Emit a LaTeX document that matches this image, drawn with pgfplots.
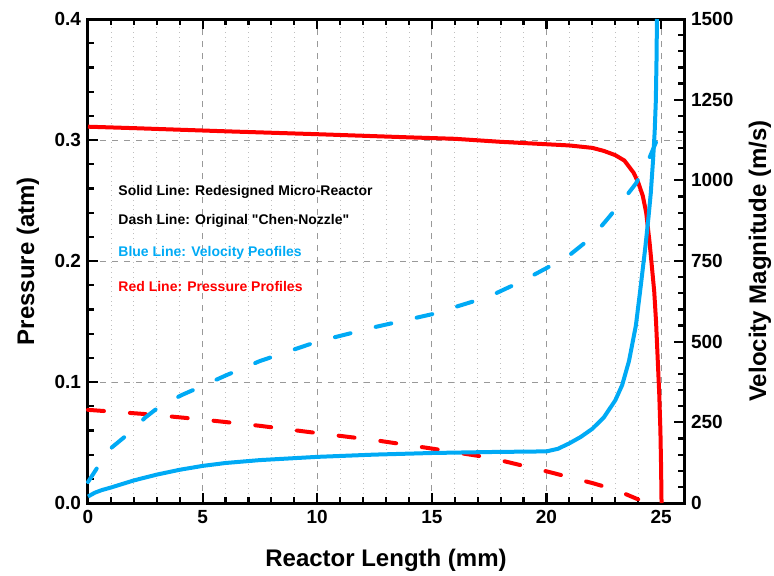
\documentclass[border=0pt]{standalone}
\usepackage{fontspec}
\setmainfont{Liberation Sans}
\newfontfamily\plainfont{Liberation Sans}
\usepackage{pgfplots}
\pgfplotsset{compat=1.18}
\definecolor{myblue}{RGB}{0,170,245}
\definecolor{myred}{RGB}{255,0,0}
\tikzset{tk/.style={black, line width=1.1pt}}
\begin{document}
\begin{tikzpicture}
\pgfplotsset{
  common/.style={
    scale only axis, width=298pt, height=242pt,
    at={(0,0)}, anchor=south west,
    xmin=0, xmax=26,
    clip=false,
    axis line style={line width=1.5pt, black},
    ticklabel style={font=\fontsize{9.5}{11}\selectfont\bfseries},
    /pgf/number format/assume math mode=true,
    /pgf/number format/1000 sep={},
    label style={font=\fontsize{12}{14}\selectfont\bfseries},
    tick align=inside,
    major tick length=5pt, minor tick length=3pt,
    every tick/.style={draw=black, line width=1.1pt},
  },
}
\begin{axis}[common,
  ymin=0, ymax=0.4,
  xtick={0,5,10,15,20,25}, minor x tick num=4,
  ytick={0,0.1,0.2,0.3,0.4}, minor y tick num=4,
  xtick pos=both, ytick pos=left,
  yticklabel style={/pgf/number format/fixed, /pgf/number format/fixed zerofill, /pgf/number format/precision=1},
  xmajorgrids=true, xminorgrids=true, ymajorgrids=true,
  major grid style={dashed, gray!80, line width=0.4pt},
  minor grid style={dotted, gray!50, line width=0.4pt},
  xlabel={Reactor Length (mm)},
  ylabel={Pressure (atm)},
  x label style={at={(axis description cs:0.5,-0.1178)}, anchor=center},
  y label style={at={(axis description cs:-0.1007,0.5)}, anchor=center},
]
% tick marks (inside)
\pgfplotsinvokeforeach{5,10,15,20,25}{
  \draw[tk] (axis cs:#1,0) -- ++(0,5pt);
  \draw[tk] (axis cs:#1,0.4) -- ++(0,-5pt);
}
\pgfplotsinvokeforeach{1,2,3,4,6,7,8,9,11,12,13,14,16,17,18,19,21,22,23,24}{
  \draw[tk] (axis cs:#1,0) -- ++(0,3pt);
  \draw[tk] (axis cs:#1,0.4) -- ++(0,-3pt);
}
\pgfplotsinvokeforeach{0.1,0.2,0.3}{
  \draw[tk] (axis cs:0,#1) -- ++(5pt,0);
}
\pgfplotsinvokeforeach{0.02,0.04,0.06,0.08,0.12,0.14,0.16,0.18,0.22,0.24,0.26,0.28,0.32,0.34,0.36,0.38}{
  \draw[tk] (axis cs:0,#1) -- ++(3pt,0);
}
% red solid: pressure, redesigned
\addplot[myred, line width=2pt] coordinates {
(0,0.311)(2,0.3098)(4,0.3085)(6,0.3072)(8,0.306)(10,0.3048)(12,0.3035)(14,0.3022)(16,0.301)(18,0.2985)(20,0.2965)(21,0.2955)(22,0.2935)(22.5,0.291)(23,0.2875)(23.4,0.283)(23.8,0.273)(24.0,0.265)(24.2,0.254)(24.35,0.24)(24.5,0.215)(24.6,0.195)(24.7,0.175)(24.78,0.15)(24.85,0.12)(24.92,0.09)(24.97,0.06)(25.0,0.03)(25.02,0)
};
% red dashed: pressure, original
\addplot[myred, line width=2pt, line cap=round, dash pattern=on 8pt off 13pt] coordinates {
(0,0.077)(2.5,0.0735)(5,0.069)(7.5,0.0638)(10,0.0578)(12.5,0.052)(15,0.045)(17.5,0.0375)(20,0.0262)(22,0.0165)(23,0.011)(24,0.003)
};
\node[anchor=west, inner sep=0pt, font=\fontsize{7}{8}\selectfont\bfseries, text=black] at (axis cs:1.31,0.257) {Solid Line: Redesigned Micro-Reactor};
\node[anchor=west, inner sep=0pt, font=\plainfont\fontsize{7}{8}\selectfont\bfseries, text=black] at (axis cs:1.31,0.233) {Dash Line: Original "Chen-Nozzle"};
\node[anchor=west, inner sep=0pt, font=\fontsize{7}{8}\selectfont\bfseries, text=myblue] at (axis cs:1.31,0.2066) {Blue Line: Velocity Peofiles};
\node[anchor=west, inner sep=0pt, font=\fontsize{7}{8}\selectfont\bfseries, text=myred] at (axis cs:1.31,0.179) {Red Line: Pressure Profiles};
\end{axis}
\begin{axis}[common,
  ymin=0, ymax=1500,
  axis x line=none, axis y line*=right,
  ytick={0,250,500,750,1000,1250,1500}, minor y tick num=4,
  ylabel={Velocity Magnitude (m/s)},
  y label style={at={(axis description cs:1.1275,0.5)}, anchor=center, rotate=0},
]
\pgfplotsinvokeforeach{250,500,750,1000,1250}{
  \draw[tk] (axis cs:26,#1) -- ++(-5pt,0);
}
\pgfplotsinvokeforeach{50,100,150,200,300,350,400,450,550,600,650,700,800,850,900,950,1050,1100,1150,1200,1300,1350,1400,1450}{
  \draw[tk] (axis cs:26,#1) -- ++(-3pt,0);
}
% blue solid: velocity, redesigned
\addplot[myblue, line width=2pt] coordinates {
(0,20)(0.3,32)(0.6,40)(1,48)(2,70)(3,88)(4,103)(5,115)(6,124)(7.5,133)(10,143)(12.5,150)(15,155)(17.5,158)(20,160)(20.5,168)(21,185)(21.5,205)(22,230)(22.5,265)(23,318)(23.3,365)(23.6,440)(23.9,550)(24.1,665)(24.3,785)(24.45,885)(24.55,960)(24.65,1063)(24.72,1150)(24.77,1245)(24.8,1370)(24.82,1500)
};
% blue dashed: velocity, original
\addplot[myblue, line width=2pt, line cap=round, dash pattern=on 8pt off 13pt] coordinates {
(0,65)(0.5,120)(1,170)(1.7,211)(2.5,265)(3.1,298)(4.1,335)(5,363)(6,395)(7.5,440)(10,500)(12.5,545)(15,585)(17.5,640)(19,690)(20,728)(21,768)(22,825)(22.6,875)(23.3,935)(23.9,990)(24.4,1054)(24.8,1122)
};
\end{axis}
\pgfresetboundingbox
\path (-44pt,-36pt) rectangle (343pt,251.5pt);
\end{tikzpicture}
\end{document}
